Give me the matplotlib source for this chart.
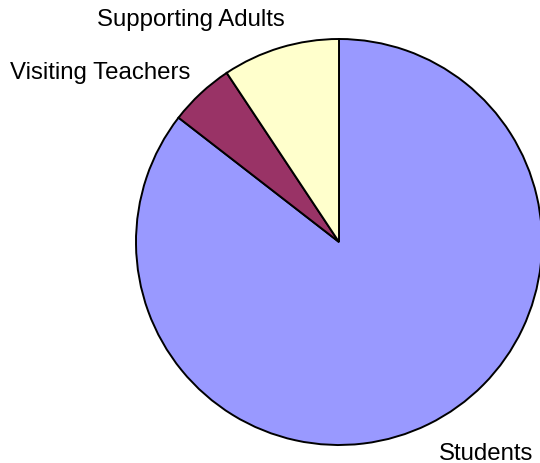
import matplotlib
matplotlib.use('Agg')
import matplotlib.pyplot as plt

# group sizes, Excel-style pie from 12 o'clock clockwise
groups = ['Students', 'Visiting Teachers', 'Supporting Adults']
counts = [165, 10, 18]
colours = ['#9999FF', '#993366', '#FFFFCC']

plt.rcParams['font.family'] = ['Liberation Sans', 'DejaVu Sans']

fig = plt.figure(figsize=(5.4, 4.64), dpi=100)
ax = fig.add_axes([0, 0, 1, 1])

ax.pie(counts, colors=colours, startangle=90, counterclock=False,
       center=(339, 221), radius=203, frame=True,
       wedgeprops=dict(edgecolor='black', linewidth=1.4))
ax.set_xlim(0, 540)
ax.set_ylim(0, 464)
ax.set_aspect('equal')
ax.axis('off')

# label spots (px, baseline)
label_pos = {'Students': (533, 4, 'right'),
             'Visiting Teachers': (10, 385, 'left'),
             'Supporting Adults': (97, 438, 'left')}
for g in groups:
    x, y, ha = label_pos[g]
    ax.text(x, y, g, fontsize=17.3, ha=ha, va='baseline')

fig.savefig('out.png', dpi=100)
